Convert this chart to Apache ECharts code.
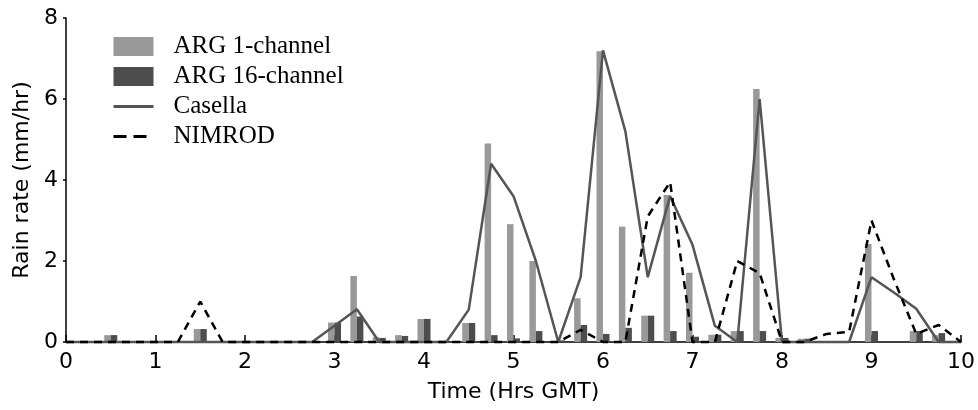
<!DOCTYPE html>
<html>
<head>
<meta charset="utf-8">
<script src="https://cdn.jsdelivr.net/npm/echarts@6/dist/echarts.min.js"></script>
<style>html,body{margin:0;padding:0;background:#fff}#c{width:978px;height:410px}</style>
</head>
<body>
<div id="c"></div>
<script>
// Time in hours GMT (15-minute steps)
const times = [0,0.25,0.5,0.75,1,1.25,1.5,1.75,2,2.25,2.5,2.75,3,3.25,3.5,3.75,4,4.25,4.5,4.75,5,5.25,5.5,5.75,6,6.25,6.5,6.75,7,7.25,7.5,7.75,8,8.25,8.5,8.75,9,9.25,9.5,9.75,10];
const arg1 = [0,0,0.17,0,0,0,0.32,0,0,0,0,0,0.48,1.63,0.12,0.17,0.57,0,0.47,4.9,2.91,2.0,0,1.08,7.18,2.85,0.65,3.63,1.71,0.18,0.27,6.25,0.1,0.08,0,0,2.42,0,0.27,0.17,0];
const arg16 = [0,0,0.17,0,0,0,0.32,0,0,0,0,0,0.48,0.63,0.1,0.15,0.57,0,0.47,0.17,0.09,0.27,0.04,0.42,0.2,0.35,0.65,0.27,0.13,0.18,0.27,0.27,0.1,0.08,0,0,0.27,0,0.27,0.22,0];
const casella = [0,0,0,0,0,0,0,0,0,0,0,0,0.4,0.81,0,0,0,0,0.8,4.4,3.6,2.0,0,1.6,7.2,5.2,1.6,3.6,2.4,0.4,0,6.0,0,0,0,0,1.6,1.22,0.82,0,0];
const nimrod = [0,0,0,0,0,0,1.0,0,0,0,0,0,0,0,0,0,0,0,0,0,0,0,0,0.3,0,0,3.1,3.95,0,0,2.0,1.7,0,0,0.2,0.25,3.0,1.55,0.2,0.42,0];
const xTicks = [0,1,2,3,4,5,6,7,8,9,10];
const yTicks = [0,2,4,6,8];

const pairs = arr => times.map((t, i) => [t, arr[i]]);
const chart = echarts.init(document.getElementById('c'), null, {renderer: 'canvas'});
const sans = 'DejaVu Sans, Arial, sans-serif';
chart.setOption({
  animation: false,
  backgroundColor: '#fff',
  grid: {left: 66, right: 17, top: 18, bottom: 68, containLabel: false, outerBoundsMode: 'none'},
  legend: {
    orient: 'vertical', left: 112, top: 34, padding: 0,
    itemWidth: 40, itemHeight: 19, itemGap: 5,
    textStyle: {fontFamily: 'Liberation Serif, Times New Roman, serif', fontSize: 25, color: '#000', padding: [0,0,0,15]},
    data: [
      {name: 'ARG 1-channel', icon: 'rect'},
      {name: 'ARG 16-channel', icon: 'rect'},
      {name: 'Casella', itemStyle: {opacity: 0}, lineStyle: {color: '#555555', width: 3}},
      {name: 'NIMROD', itemStyle: {opacity: 0}, lineStyle: {color: '#000', width: 3, type: [13, 7]}}
    ]
  },
  xAxis: {
    type: 'value', min: xTicks[0], max: xTicks[xTicks.length-1], interval: 1,
    name: 'Time (Hrs GMT)', nameLocation: 'middle', nameGap: 39, nameMoveOverlap: false,
    nameTextStyle: {fontFamily: sans, fontSize: 22, color: '#000'},
    axisLine: {lineStyle: {color: '#000', width: 1.5}},
    axisTick: {inside: true, length: 7, lineStyle: {color: '#000', width: 1.5}},
    axisLabel: {fontFamily: sans, fontSize: 22, color: '#000', margin: 9},
    splitLine: {show: false}
  },
  yAxis: {
    type: 'value', min: yTicks[0], max: yTicks[yTicks.length-1], interval: 2,
    name: 'Rain rate (mm/hr)', nameLocation: 'middle', nameGap: 33, nameMoveOverlap: false,
    nameTextStyle: {fontFamily: sans, fontSize: 22, color: '#000'},
    axisLine: {show: true, lineStyle: {color: '#000', width: 1.5}},
    axisTick: {show: true, length: 3, lineStyle: {color: '#000', width: 1.5}},
    axisLabel: {fontFamily: sans, fontSize: 22, color: '#000', margin: 8},
    splitLine: {show: false}
  },
  series: [
    {name: 'ARG 1-channel', type: 'bar', data: pairs(arg1), barWidth: 6.5, barGap: '0%', itemStyle: {color: '#999999'}, z: 2},
    {name: 'ARG 16-channel', type: 'bar', data: pairs(arg16), barWidth: 6.5, barGap: '0%', itemStyle: {color: '#4d4d4d'}, z: 2},
    {name: 'Casella', type: 'line', data: pairs(casella), symbol: 'none', clip: false, lineStyle: {color: '#555555', width: 2.5}, itemStyle: {color: '#555555'}, z: 3},
    {name: 'NIMROD', type: 'line', data: pairs(nimrod), symbol: 'none', clip: false, lineStyle: {color: '#000', width: 2.5, type: [8, 6]}, itemStyle: {color: '#000'}, z: 4}
  ]
});
</script>
</body>
</html>
